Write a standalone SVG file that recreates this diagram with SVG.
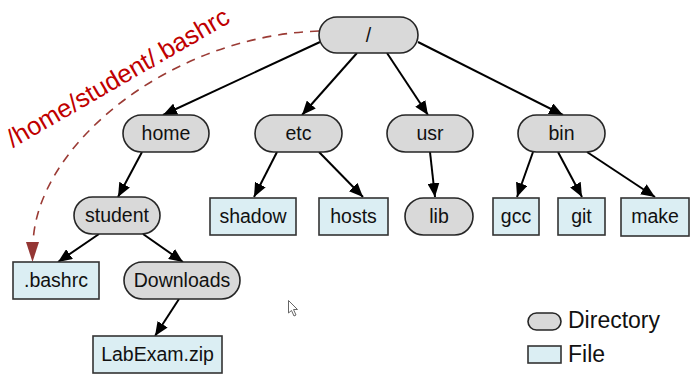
<svg xmlns="http://www.w3.org/2000/svg" width="696" height="379" viewBox="0 0 696 379">
  <defs>
    <marker id="arrow" viewBox="0 0 14 12" refX="14" refY="6" markerWidth="14" markerHeight="12" markerUnits="userSpaceOnUse" orient="auto">
      <path d="M0,0 L14,6 L0,12 z" fill="#000"/>
    </marker>
    <style>
      .dir rect { fill: #d9d9d9; stroke: #262626; stroke-width: 1.6; }
      .file rect { fill: #dbeef3; stroke: #333; stroke-width: 1.6; }
      .lbl { font-family: "Liberation Sans", Arial, sans-serif; font-size: 19.5px; fill: #111; text-anchor: middle; }
      .edge { stroke: #000; stroke-width: 2; fill: none; marker-end: url(#arrow); }
      .legend { font-family: "Liberation Sans", Arial, sans-serif; font-size: 23px; fill: #111; }
    </style>
  </defs>

  <!-- path annotation -->
  <text x="13" y="148" transform="rotate(-30 13 148)" font-family="'Liberation Sans', Arial, sans-serif" font-size="25.5" fill="#c00000">/home/student/.bashrc</text>
  <path d="M319,31 C170,36 36,145 33,244" fill="none" stroke="#9b3b35" stroke-width="1.6" stroke-dasharray="9,7"/>
  <path d="M26,242 L39,242 L32.5,262 z" fill="#943634"/>

  <!-- connectors -->
  <g id="connectors">
    <line class="edge" x1="320" y1="42" x2="163" y2="115"/>
    <line class="edge" x1="357" y1="53" x2="302" y2="115"/>
    <line class="edge" x1="387" y1="53" x2="428" y2="115"/>
    <line class="edge" x1="418" y1="42" x2="563" y2="115"/>
    <line class="edge" x1="142" y1="152" x2="118" y2="197"/>
    <line class="edge" x1="277" y1="152" x2="254" y2="197"/>
    <line class="edge" x1="319" y1="152" x2="363" y2="197"/>
    <line class="edge" x1="430" y1="152" x2="435" y2="197"/>
    <line class="edge" x1="533" y1="152" x2="517" y2="197"/>
    <line class="edge" x1="558" y1="152" x2="582" y2="197"/>
    <line class="edge" x1="587" y1="152" x2="655" y2="197"/>
    <line class="edge" x1="99" y1="234" x2="58" y2="262"/>
    <line class="edge" x1="143" y1="234" x2="183" y2="262"/>
    <line class="edge" x1="179" y1="299" x2="155" y2="336"/>
  </g>

  <!-- directories -->
  <g id="root" class="dir"><rect x="319" y="17" width="99" height="36" rx="18"/><text class="lbl" x="368.5" y="42">/</text></g>
  <g id="home" class="dir"><rect x="123" y="115" width="86" height="37" rx="18.5"/><text class="lbl" x="166" y="140">home</text></g>
  <g id="etc" class="dir"><rect x="255" y="115" width="87" height="37" rx="18.5"/><text class="lbl" x="298.5" y="140">etc</text></g>
  <g id="usr" class="dir"><rect x="387" y="115" width="86" height="37" rx="18.5"/><text class="lbl" x="430" y="140">usr</text></g>
  <g id="bin" class="dir"><rect x="518" y="115" width="87" height="37" rx="18.5"/><text class="lbl" x="561.5" y="140">bin</text></g>
  <g id="student" class="dir"><rect x="74" y="197" width="86" height="37" rx="18.5"/><text class="lbl" x="117" y="222">student</text></g>
  <g id="lib" class="dir"><rect x="405" y="198" width="68" height="37" rx="18.5"/><text class="lbl" x="439" y="223">lib</text></g>
  <g id="downloads" class="dir"><rect x="124" y="262" width="116" height="37" rx="18.5"/><text class="lbl" x="182" y="287">Downloads</text></g>

  <!-- files -->
  <g id="shadow" class="file"><rect x="210" y="198" width="86" height="37"/><text class="lbl" x="253" y="223">shadow</text></g>
  <g id="hosts" class="file"><rect x="319" y="198" width="69" height="37"/><text class="lbl" x="353.5" y="223">hosts</text></g>
  <g id="gcc" class="file"><rect x="493" y="198" width="46" height="37"/><text class="lbl" x="516" y="223">gcc</text></g>
  <g id="git" class="file"><rect x="558" y="198" width="47" height="37"/><text class="lbl" x="581.5" y="223">git</text></g>
  <g id="make" class="file"><rect x="621" y="198" width="68" height="38"/><text class="lbl" x="655" y="223">make</text></g>
  <g id="bashrc" class="file"><rect x="13" y="262" width="86" height="37"/><text class="lbl" x="56" y="287">.bashrc</text></g>
  <g id="labexam" class="file"><rect x="93" y="336" width="129" height="37"/><text class="lbl" x="157.5" y="361">LabExam.zip</text></g>

  <!-- legend -->
  <g id="legend">
    <g class="dir"><rect x="528" y="313" width="33" height="17" rx="8.5"/></g>
    <text class="legend" x="568" y="328">Directory</text>
    <g class="file"><rect x="528" y="346" width="33" height="17"/></g>
    <text class="legend" x="568" y="362">File</text>
  </g>

  <!-- mouse pointer -->
  <path d="M288.5,300.5 L288.5,313 L291.5,310.5 L294,316 L296,315 L293.5,309.5 L297.5,309.5 z" fill="#fff" stroke="#666" stroke-width="1" stroke-linejoin="round"/>
</svg>
